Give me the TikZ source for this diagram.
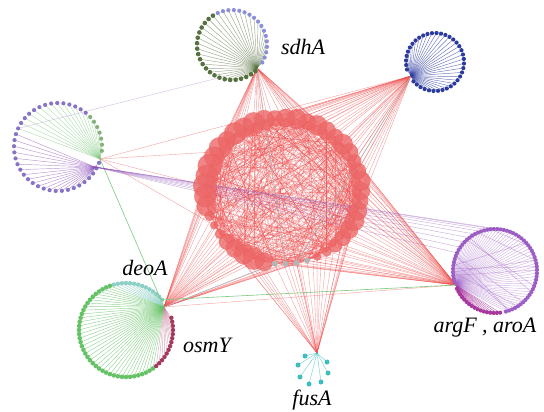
\documentclass[tikz,border=0pt]{standalone}
\usepackage{fontspec}
\setmainfont{Liberation Serif}
\definecolor{redn}{HTML}{EC6868}
\definecolor{rede}{HTML}{EE5050}
\definecolor{olive}{HTML}{56703F}
\definecolor{lavb}{HTML}{8C8FD8}
\definecolor{blu}{HTML}{2B3A9E}
\definecolor{lav}{HTML}{8774C6}
\definecolor{lgreen}{HTML}{86B27A}
\definecolor{gline}{HTML}{7CC87C}
\definecolor{pline}{HTML}{8D4FB8}
\definecolor{dgreen}{HTML}{66C266}
\definecolor{teal}{HTML}{8CCFC4}
\definecolor{dred}{HTML}{A43A5C}
\definecolor{purp}{HTML}{9C5EC4}
\definecolor{mag}{HTML}{A8379E}
\definecolor{fteal}{HTML}{3DBDBD}
\definecolor{grayn}{HTML}{B4B4B4}
\begin{document}
\begin{tikzpicture}[x=1pt,y=-1pt,
  chord/.style={draw=rede,line width=0.4pt,opacity=0.42},
  hubline/.style={draw=rede,line width=0.4pt,opacity=0.55},
  lab/.style={font=\fontsize{22}{26}\selectfont\itshape,inner sep=0pt}]
\useasboundingbox (0,0) rectangle (544,412);
\pgfmathsetseed{4242}
% hubs
\coordinate (hS) at (257,68);
\coordinate (hB) at (411,76);
\coordinate (hLg) at (100,159);
\coordinate (hLp) at (95,167);
\coordinate (hD) at (164,307);
\coordinate (hR) at (456,285);
\coordinate (hF) at (317,353);
% central red nodes
\def\redlist{0/9,8/10,16/8,24/7,32/9,40/10,48/8,56/9,64/10,72/8,80/10,88/9,96/8,104/10,112/11,120/10,128/11,136/9,144/11,152/10,160/12,168/11,176/12,184/11,192/10,200/5,208/4,216/5,224/8,232/9,240/10,248/11,256/9,264/3,272/3,280/3,288/3,296/4,304/5,312/7,320/8,328/9,336/10,344/9,352/8}
\foreach \a/\r [count=\i] in \redlist {
  \coordinate (r\i) at ({283+78*cos(\a)},{191-73*sin(\a)});
}
% chords inside the ring
\foreach \i in {1,...,45} {
  \foreach \k in {1,...,11} {
    \pgfmathrandominteger{\j}{1}{45}
    \draw[chord] (r\i) -- (r\j);
  }
}
% hub to ring edges
\foreach \h/\p in {hS/0.5,hB/0.85,hLg/0.1,hD/0.7,hR/0.85,hF/0.5} {
  \foreach \i in {1,...,45} {
    \pgfmathtruncatemacro{\ok}{rnd<\p}
    \ifnum\ok=1 \draw[hubline] (\h) -- (r\i); \fi
  }
}
\draw[hubline] (hB) -- (hLg);
\draw[hubline] (hB) -- (hD);
\draw[hubline] (hS) -- (hR);
\draw[hubline] (hS) -- (hF);
\draw[hubline] (hS) -- (hD);
\draw[hubline] (hD) -- (hR);
% gray edges
\draw[grayn,line width=0.6pt] (hS) -- (r35);
\draw[grayn,line width=0.6pt] (r34) -- (hD);
\draw[grayn,line width=0.6pt] (r36) -- (hB);
% sdhA cluster
\foreach \a [count=\k] in {-30,-21,...,114} {
  \coordinate (sb\k) at ({232+35*cos(\a)},{45-35*sin(\a)});
  \draw[olive,line width=0.45pt,opacity=0.6] (hS) -- (sb\k);
}
\foreach \a [count=\k] in {123,132,...,312} {
  \coordinate (so\k) at ({232+35*cos(\a)},{45-35*sin(\a)});
  \draw[olive,line width=0.45pt,opacity=0.6] (hS) -- (so\k);
}
\foreach \k in {1,...,17} \fill[lavb] (sb\k) circle (2.1);
\foreach \k in {1,...,22} \fill[olive] (so\k) circle (2.3);
% blue cluster
\foreach \a [count=\k] in {222,231,...,555} {
  \coordinate (bb\k) at ({435+29*cos(\a)},{62-29*sin(\a)});
  \draw[blu,line width=0.45pt,opacity=0.7] (hB) -- (bb\k);
}
\foreach \k in {1,...,38} \fill[blu] (bb\k) circle (2.1);
% left cluster
\foreach \a [count=\k] in {-5,3,...,155} {
  \coordinate (lg\k) at ({58+44*cos(\a)},{147-44*sin(\a)});
  \draw[gline,line width=0.45pt,opacity=0.6] (hLg) -- (lg\k);
}
\foreach \a [count=\k] in {163,171,...,339} {
  \coordinate (lp\k) at ({58+44*cos(\a)},{147-44*sin(\a)});
  \draw[pline,line width=0.45pt,opacity=0.6] (hLp) -- (lp\k);
}
\foreach \k in {1,...,7} \fill[lgreen] (lg\k) circle (2.1);
\foreach \k in {8,...,21} \fill[lav] (lg\k) circle (2.1);
\foreach \k in {1,...,23} \fill[lav] (lp\k) circle (2.1);
% bottom-left cluster
\foreach \a [count=\k] in {40,45,...,105} {
  \coordinate (dt\k) at ({126+47*cos(\a)},{330-47*sin(\a)});
  \draw[teal,line width=0.45pt,opacity=0.8] (hD) -- (dt\k);
}
\foreach \a [count=\k] in {110,115,...,305} {
  \coordinate (dg\k) at ({126+47*cos(\a)},{330-47*sin(\a)});
  \draw[dgreen,line width=0.45pt,opacity=0.7] (hD) -- (dg\k);
}
\foreach \a [count=\k] in {310,315,...,375} {
  \coordinate (dr\k) at ({126+47*cos(\a)},{330-47*sin(\a)});
  \draw[dred!60!white,line width=0.45pt,opacity=0.7] (hD) -- (dr\k);
}
\foreach \k in {1,...,14} \fill[teal] (dt\k) circle (2.2);
\foreach \k in {1,...,40} \fill[dgreen] (dg\k) circle (2.3);
\foreach \k in {1,...,14} \fill[dred] (dr\k) circle (2.2);
% right cluster
\foreach \a [count=\k] in {205,209.5,...,281} {
  \coordinate (rm\k) at ({495+42*cos(\a)},{271-42*sin(\a)});
  \draw[mag,line width=0.45pt,opacity=0.7] (hR) -- (rm\k);
}
\foreach \a [count=\k] in {285,289.5,...,555} {
  \coordinate (rp\k) at ({495+42*cos(\a)},{271-42*sin(\a)});
  \draw[purp,line width=0.45pt,opacity=0.45] (hR) -- (rp\k);
}
\foreach \k in {1,...,12} {
  \pgfmathrandominteger{\u}{35}{60}
  \pgfmathrandominteger{\v}{1}{30}
  \draw[purp,line width=0.45pt,opacity=0.5] (rp\u) -- (rp\v);
}
\foreach \k in {1,...,17} \fill[mag] (rm\k) circle (2.1);
\foreach \k in {1,...,61} \fill[purp] (rp\k) circle (2.1);
% fusA cluster
\foreach \x/\y [count=\k] in {305/356,298/365,300/377,309/384,321/382,328/373,327/362} {
  \coordinate (f\k) at (\x,\y);
  \draw[fteal,line width=0.45pt,opacity=0.7] (hF) -- (f\k);
}
\foreach \k in {1,...,7} \fill[fteal] (f\k) circle (2.5);
% cross-cluster edges
\draw[pline,line width=0.45pt,opacity=0.35] (lg21) -- (so15);
\draw[gline,line width=0.6pt] (hLg) -- (hD);
\draw[gline,line width=0.6pt] (dt1) -- (hR);
\foreach \u in {36,38,40,42,44,46,48,50,52} {
  \draw[pline,line width=0.45pt,opacity=0.45] (hLp) -- (rp\u);
}
% ring nodes on top
\foreach \a/\r [count=\i] in \redlist {
  \ifdim\r pt<3.5pt
    \fill[grayn] (r\i) circle (\r);
  \else
    \filldraw[fill=redn,draw=rede,fill opacity=0.8,draw opacity=0.5,line width=0.3pt] (r\i) circle (\r);
  \fi
}
% labels
\node[lab] (lsdhA) at (303,47) {sdhA};
\node[lab] (ldeoA) at (145,268) {deoA};
\node[lab] (losmY) at (207,345) {osmY};
\node[lab] (largF) at (485,328) {argF , aroA};
\node[lab] (lfusA) at (312,400) {fusA};
\end{tikzpicture}
\end{document}
